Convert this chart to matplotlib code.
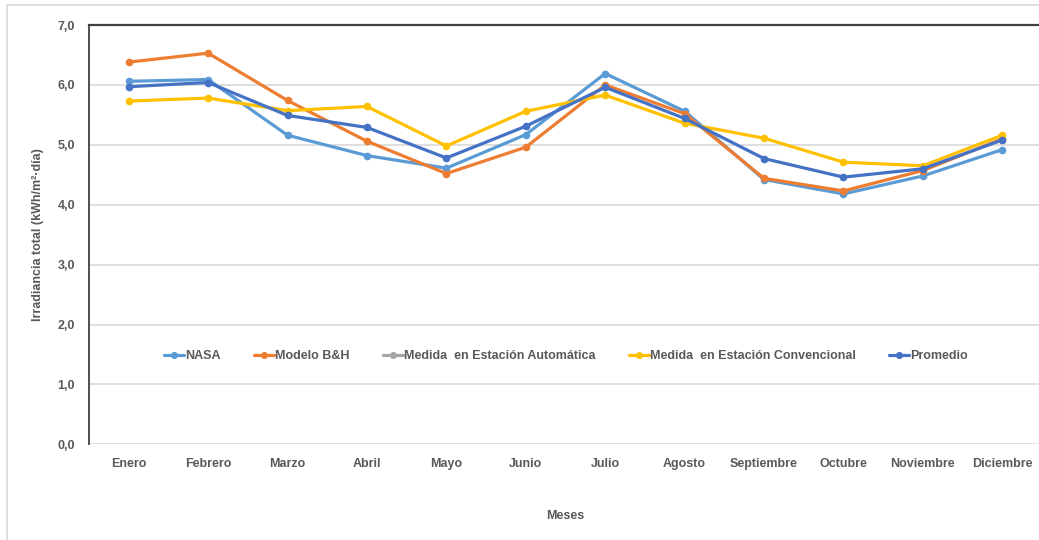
import matplotlib.pyplot as plt
from matplotlib.patches import Rectangle
from matplotlib.ticker import FuncFormatter

meses = ["Enero", "Febrero", "Marzo", "Abril", "Mayo", "Junio", "Julio",
         "Agosto", "Septiembre", "Octubre", "Noviembre", "Diciembre"]

nasa = [6.06, 6.09, 5.16, 4.82, 4.61, 5.17, 6.19, 5.56, 4.42, 4.18, 4.48, 4.92]
modelo_bh = [6.38, 6.53, 5.74, 5.06, 4.52, 4.96, 6.00, 5.52, 4.44, 4.23, 4.57, 5.10]
est_automatica = []  # sin datos en el grafico, solo aparece en la leyenda
est_convencional = [5.73, 5.78, 5.57, 5.64, 4.98, 5.56, 5.83, 5.36, 5.11, 4.71, 4.65, 5.16]
promedio = [5.97, 6.04, 5.49, 5.29, 4.78, 5.31, 5.96, 5.44, 4.77, 4.46, 4.60, 5.08]

plt.rcParams["font.family"] = ["Liberation Sans", "DejaVu Sans"]
txt = "#595959"

fig = plt.figure(figsize=(10.39, 5.40), dpi=100)
fig.patches.append(Rectangle((7 / 1039, -0.05), 1.2, 1 - 5 / 540 + 0.05,
                             transform=fig.transFigure, fill=False,
                             edgecolor="#d9d9d9", linewidth=1.2))

ax = fig.add_axes([89 / 1039, (540 - 444.3) / 540, 953 / 1039, 419.3 / 540])

x = list(range(len(meses)))
series = [
    ("NASA", nasa, "#5B9BD5"),
    ("Modelo B&H", modelo_bh, "#ED7D31"),
    ("Medida  en Estación Automática", est_automatica, "#A5A5A5"),
    ("Medida  en Estación Convencional", est_convencional, "#FFC000"),
    ("Promedio", promedio, "#4472C4"),
]
for name, vals, col in series:
    ax.plot(x[:len(vals)], vals, color=col, lw=2.3, marker="o", ms=4.5,
            label=name, solid_capstyle="round")

ax.set_xlim(-0.5, 11.5)
ax.set_ylim(0, 7)
ax.set_yticks([0, 1, 2, 3, 4, 5, 6, 7])
ax.yaxis.set_major_formatter(FuncFormatter(lambda v, p: f"{v:.1f}".replace(".", ",")))
ax.set_xticks(x)
ax.set_xticklabels(meses)
ax.grid(axis="y", color="#d9d9d9", lw=1.2)
ax.set_axisbelow(True)
ax.tick_params(length=0, labelsize=9, colors=txt, pad=10)
for lab in ax.get_xticklabels() + ax.get_yticklabels():
    lab.set_fontweight("bold")
ax.tick_params(axis="y", pad=10)

ax.spines["right"].set_visible(False)
ax.spines["bottom"].set_visible(False)
ax.spines["left"].set_color("#404040")
ax.spines["top"].set_color("#404040")
ax.spines["left"].set_linewidth(1.3)
ax.spines["top"].set_linewidth(1.6)

ax.set_ylabel("Irradiancia total (kWh/m²·día)", fontsize=9, color=txt,
              fontweight="bold", labelpad=10)
ax.set_xlabel("Meses", fontsize=9, color=txt, fontweight="bold", labelpad=29)

leg = ax.legend(loc="center", bbox_to_anchor=(566 / 1039, (540 - 356) / 540),
                bbox_transform=fig.transFigure, ncol=5, frameon=False,
                fontsize=9, handlelength=1.6, handletextpad=0.1,
                columnspacing=2.65, markerscale=0.9)
for t in leg.get_texts():
    t.set_color(txt)
    t.set_fontweight("bold")

fig.savefig("out.png", dpi=100)
